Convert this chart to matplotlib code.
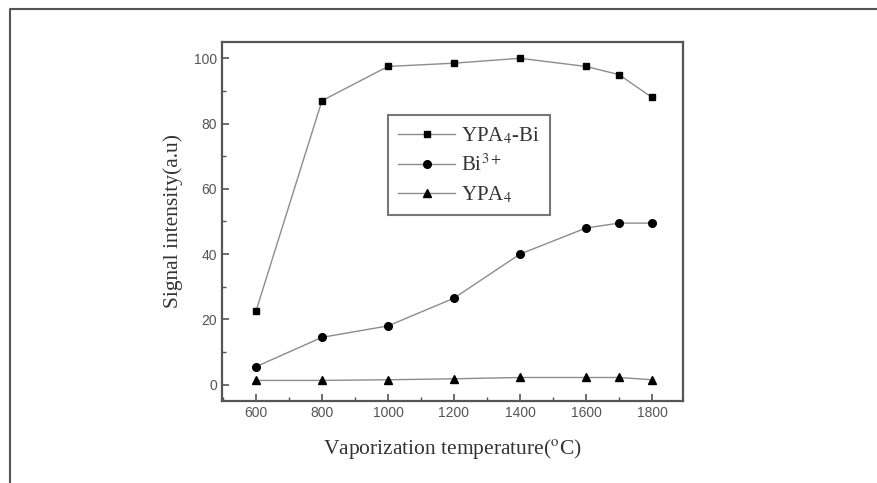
import matplotlib
matplotlib.use("Agg")
import matplotlib.pyplot as plt
from matplotlib.lines import Line2D
from matplotlib.ticker import MultipleLocator

# Signal intensity vs vaporization temperature
temps = [600, 800, 1000, 1200, 1400, 1600, 1700, 1800]
ypa4_bi = [22.5, 87, 97.5, 98.5, 100, 97.5, 95, 88]
bi3 = [5.5, 14.5, 18, 26.5, 40, 48, 49.5, 49.5]
ypa4 = [1.3, 1.3, 1.5, 1.8, 2.2, 2.2, 2.2, 1.5]
xticks = [600, 800, 1000, 1200, 1400, 1600, 1800]
yticks = [0, 20, 40, 60, 80, 100]

plt.rcParams['mathtext.fontset'] = 'stix'
serif = ['Liberation Serif', 'DejaVu Serif']
tickfont = ['Liberation Sans Narrow', 'Liberation Sans', 'DejaVu Sans']

fig = plt.figure(figsize=(8.78, 4.83), dpi=100)
ax = fig.add_axes([0.2528, 0.1698, 0.5251, 0.7433])

line_kw = dict(color='#8c8c8c', lw=1.0, markerfacecolor='black', markeredgecolor='black')
ax.plot(temps, ypa4_bi, marker='s', markersize=5, label='YPA$_4$-Bi', **line_kw)
ax.plot(temps, bi3, marker='o', markersize=5.5, label='Bi$^{3+}$', **line_kw)
ax.plot(temps, ypa4, marker='^', markersize=6, label='YPA$_4$', **line_kw)

ax.set_xlim(497, 1894)
ax.set_ylim(-5, 105)
ax.set_xticks(xticks)
ax.set_yticks(yticks)
ax.xaxis.set_minor_locator(MultipleLocator(100))
ax.yaxis.set_minor_locator(MultipleLocator(10))
ax.tick_params(which='major', direction='in', length=5, width=1.2, color='#555555',
               labelsize=10, labelcolor='#555555')
ax.tick_params(which='minor', direction='in', length=3, width=1.0, color='#555555')
for lab in ax.get_xticklabels() + ax.get_yticklabels():
    lab.set_family(tickfont)

for sp in ax.spines.values():
    sp.set_color('#555555')
    sp.set_linewidth(1.6)

ax.set_xlabel(r'Vaporization temperature($^{\rm o}$C)', family=serif, fontsize=15.5,
              color='#333333', labelpad=12)
ax.set_ylabel('Signal intensity(a.u)', family=serif, fontsize=15.5,
              color='#333333', labelpad=8)

leg = ax.legend(loc='upper left', bbox_to_anchor=(0.442, 0.762),
                bbox_transform=fig.transFigure, prop={'family': serif, 'size': 15},
                handlelength=2.7, handletextpad=0.3, labelspacing=0.4,
                fancybox=False, framealpha=1, edgecolor='#777777',
                borderpad=0.5, borderaxespad=0, labelcolor='#333333')
leg.get_frame().set_linewidth(1.5)

# outer frame lines along top and left edge
fig.add_artist(Line2D([10 / 878, 10 / 878, 1.0], [0.0, 1 - 9 / 483, 1 - 9 / 483],
                      transform=fig.transFigure, color='#555555', lw=1.5))

fig.savefig('out.png', dpi=100)
